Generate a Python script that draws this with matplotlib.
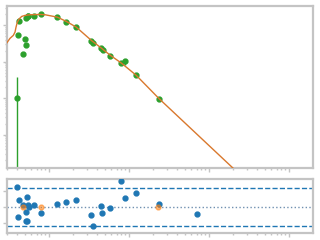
import numpy as np
import matplotlib
matplotlib.use("Agg")
import matplotlib.pyplot as plt

# measured points
data_x = [0.402, 0.413, 0.425, 0.473, 0.501, 0.516, 0.520, 0.542, 0.551, 0.655,
          0.801, 1.27, 1.645, 2.19, 3.38, 3.55, 4.50, 4.69, 5.84, 8.01,
          8.99, 12.3, 23.7]
data_y = [0.00982, 0.532, 1.288, 0.160, 0.413, 0.283, 1.585, 1.845, 1.798, 1.765,
          2.0, 1.656, 1.263, 0.881, 0.381, 0.336, 0.234, 0.211, 0.148, 0.091,
          0.103, 0.0427, 0.0098]
err_lo = [0.00981, 0, 0, 0, 0, 0, 0, 0, 0, 0,
          0, 0, 0, 0, 0, 0, 0, 0, 0, 0,
          0.023, 0, 0]
err_hi = [0.028, 0, 0, 0, 0, 0, 0, 0, 0, 0,
          0, 0, 0, 0, 0, 0, 0, 0, 0, 0,
          0.014, 0, 0]

# model curve
model_x = [0.296, 0.325, 0.358, 0.376, 0.387, 0.402, 0.425, 0.456, 0.501, 0.579,
           0.772, 0.891, 1.27, 1.645, 2.19, 3.38, 4.50, 5.84, 8.01, 12.3,
           23.7, 244.0]
model_y = [0.327, 0.440, 0.532, 0.655, 0.898, 1.231, 1.526, 1.765, 1.88, 1.964,
           2.0, 1.964, 1.688, 1.288, 0.898, 0.388, 0.239, 0.151, 0.0927, 0.0427,
           0.0098, 7.96e-5]

# residuals
res_x = [0.402, 0.413, 0.425, 0.477, 0.511, 0.520, 0.526, 0.535, 0.547, 0.556,
         0.655, 0.801, 1.27, 1.645, 2.19, 3.38, 3.58, 4.50, 4.64, 5.84,
         8.01, 8.99, 12.3, 23.7, 71.4]
res_y = [1.24, -0.63, 0.43, 0.14, -0.86, -0.32, -0.86, 0.62, 0.12, 0.0,
         0.12, -0.38, 0.18, 0.31, 0.43, -0.51, -1.19, 0.06, -0.38, -0.07,
         1.62, 0.56, 0.87, 0.18, -0.44]
flag_x = [0.477, 0.801, 22.9]
flag_y = [0.0, 0.0, 0.0]
sigma = 1.18

GREY = "#c4c4c4"

fig = plt.figure(figsize=(3.2, 2.4), dpi=100)
ax = fig.add_axes([0.0219, 0.3, 0.956, 0.673])
axr = fig.add_axes([0.0219, 0.028, 0.956, 0.226])

ax.plot(model_x, model_y, color="#d9782d", lw=1.0, zorder=3)
ax.errorbar(data_x, data_y, yerr=[err_lo, err_hi], fmt="o", color="#2ca02c",
            ms=3.5, elinewidth=1, capsize=0, zorder=2)
ax.set_xscale("log")
ax.set_yscale("log")
ax.set_xlim(0.2985, 1995)
ax.set_ylim(1.21e-4, 3.31)

axr.axhline(sigma, color="#1f77b4", ls="--", lw=1)
axr.axhline(-sigma, color="#1f77b4", ls="--", lw=1)
axr.axhline(0, color="#7090b0", ls=":", lw=1)
axr.plot(res_x, res_y, "o", color="#1f77b4", ms=3.5, zorder=3)
axr.plot(flag_x, flag_y, "o", color="#ff7f0e", ms=3.5, alpha=0.55, zorder=4)
axr.set_xscale("log")
axr.set_xlim(0.2985, 1995)
axr.set_ylim(-1.63, 1.76)
axr.set_yticks([-1, 0, 1])

for a in (ax, axr):
    for s in a.spines.values():
        s.set_color(GREY)
        s.set_linewidth(1.6)
    a.tick_params(which="both", labelbottom=False, labelleft=False,
                  colors=GREY, width=1)
    a.tick_params(which="major", length=3)
    a.tick_params(which="minor", length=1.5)

fig.savefig("out.png", dpi=100)
